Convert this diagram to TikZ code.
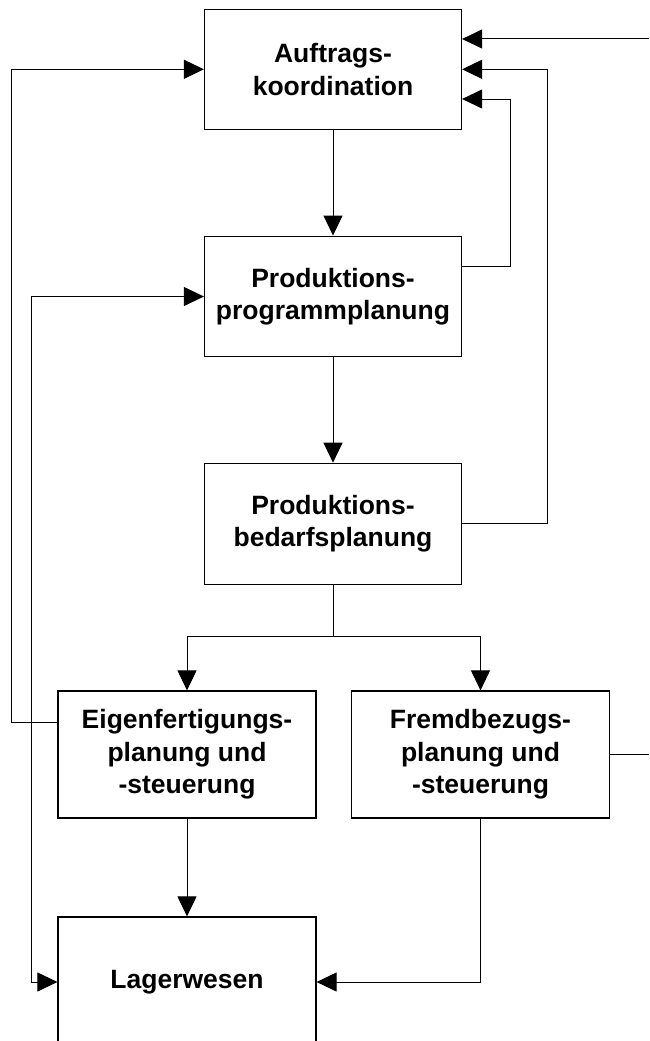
\documentclass[tikz,border=0pt]{standalone}
\usepackage{fontspec}
\setmainfont{Liberation Sans}
\usetikzlibrary{arrows.meta}
\tikzset{
  box/.style={draw, line width=1.2pt, align=center, inner sep=0pt,
    font=\fontsize{26.5}{32.5}\selectfont\bfseries},
  conn/.style={line width=1pt, -{Triangle[length=20pt,width=19pt]}},
  plain/.style={line width=1pt},
}
\begin{document}
\begin{tikzpicture}[x=1pt,y=-1pt]
\clip (0,0) rectangle (649,1041);
\fill[white] (0,0) rectangle (649,1041);
\node[box, minimum width=257pt, minimum height=120pt] (b1) at (333,69.3) {Auftrags-\\koordination};
\node[box, minimum width=257pt, minimum height=120.7pt] (b2) at (333,296.5) {Produktions-\\programmplanung};
\node[box, minimum width=257pt, minimum height=121pt] (b3) at (333,523.8) {Produktions-\\bedarfsplanung};
\node[box, minimum width=258pt, minimum height=127pt] (b4) at (187,754.5) {Eigenfertigungs-\\planung und\\-steuerung};
\node[box, minimum width=257.6pt, minimum height=127pt] (b5) at (480.5,754.5) {Fremdbezugs-\\planung und\\-steuerung};
\node[box, minimum width=258pt, minimum height=130pt] (b6) at (187,982) {Lagerwesen};
\coordinate (ext1) at (649,39);
\coordinate (ext2) at (649,753);
\coordinate (split) at (333,636);
% vertical flow
\draw[conn] (b1.south) -- (b2.north);
\draw[conn] (b2.south) -- (b3.north);
\draw[plain] (b3.south) -- (split);
\draw[conn] (split) -| (b4.north);
\draw[conn] (split) -| (b5.north);
\draw[conn] (b4.south) -- (b6.north);
\draw[conn] (b5.south) |- (b6.east);
% feedback right
\draw[conn] (ext1) -- (b1.east |- ext1);
\draw[conn] (b3.east) -- (547,523.8) |- (b1.east);
\draw[conn] (b2.east |- 0,266) -- (510,266) |- (b1.east |- 0,99);
\draw[plain] (b5.east) -- (b5.east -| ext2);
% feedback left
\draw[conn] (b4.west |- 0,722) -- (11,722) |- (b1.west);
\draw[line width=1pt, {Triangle[length=20pt,width=19pt]}-{Triangle[length=20pt,width=19pt]}] (b2.west) -- (31,296.5) |- (b6.west);
\end{tikzpicture}
\end{document}
